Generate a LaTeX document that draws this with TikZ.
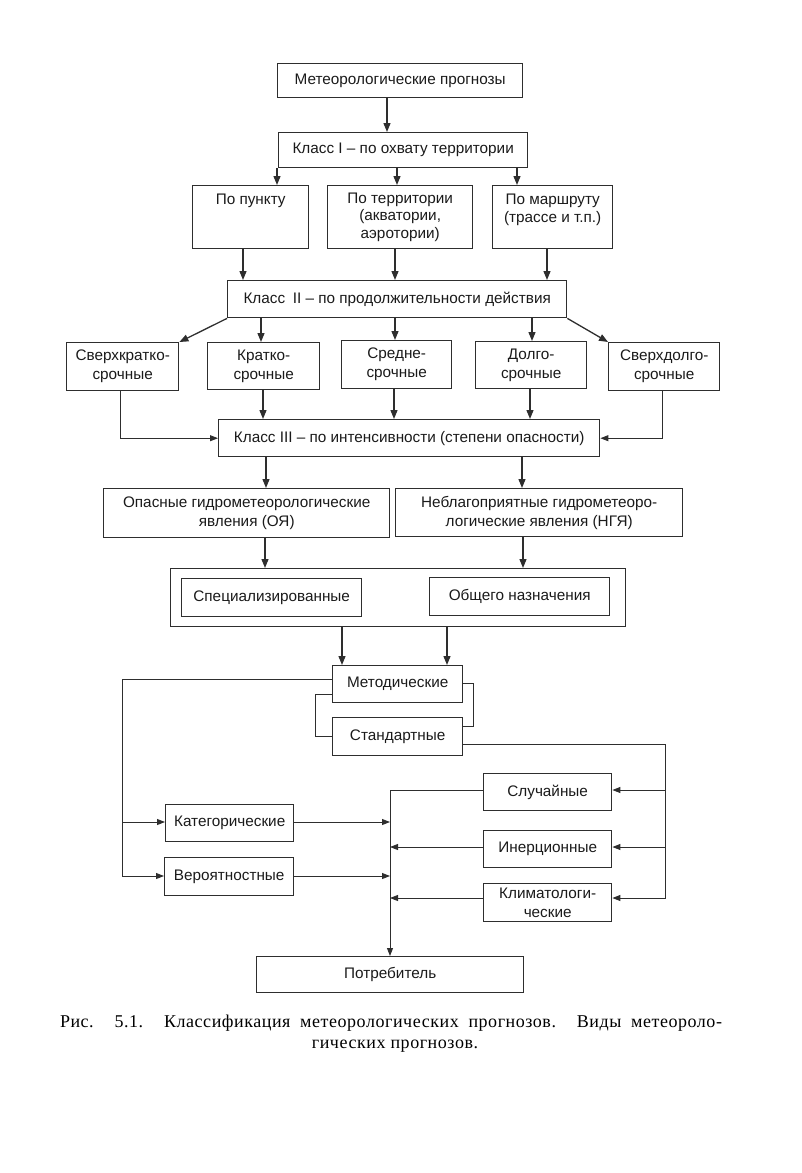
\documentclass[tikz,border=0pt]{standalone}
\usepackage{fontspec}
\setmainfont{Liberation Sans}
\newfontfamily\capfont[LetterSpace=3]{Liberation Serif}
\usetikzlibrary{arrows.meta}
\definecolor{lc}{HTML}{2E2E2E}
\definecolor{tc}{HTML}{1A1A1A}
\begin{document}
\begin{tikzpicture}[x=1pt,y=-1pt,
  box/.style={draw=lc, line width=1.4pt, inner sep=0pt, align=center, anchor=north west,
    font=\fontsize{15.3}{19}\selectfont, text=tc},
  toprow/.style={box, font=\fontsize{15.3}{17.5}\selectfont},
  arr/.style={draw=lc, line width=1.3pt, -{Triangle[length=9pt,width=7pt]}},
  thinarr/.style={draw=lc, line width=0.9pt, -{Triangle[length=8pt,width=6pt]}},
  thinln/.style={draw=lc, line width=0.9pt},
  captext/.style={font=\capfont\fontsize{18}{20}\selectfont, text=black, inner sep=0pt}]
\useasboundingbox (0,0) rectangle (802,1173);

% ---- boxes ----
\node[box, minimum width=245pt, minimum height=34pt] (met) at (277,63) {Метеорологические прогнозы};
\node[box, minimum width=249pt, minimum height=35pt] (k1) at (278,132) {Класс I – по охвату территории};
\node[toprow, minimum width=116pt, minimum height=63pt] (punkt) at (192,185) {По пункту\\\mbox{}\\\mbox{}};
\node[toprow, minimum width=145pt, minimum height=63pt] (terr) at (327,185) {По территории\\(акватории,\\аэротории)};
\node[toprow, minimum width=120pt, minimum height=63pt] (marsh) at (492,185) {По маршруту\\(трассе и т.п.)\\\mbox{}};
\node[box, minimum width=339pt, minimum height=37pt] (k2) at (227,280) {Класс\enspace II – по продолжительности действия};
\node[box, minimum width=112pt, minimum height=48pt] (sk) at (66,342) {Сверхкратко-\\срочные};
\node[box, minimum width=112pt, minimum height=47pt] (kr) at (207,342) {Кратко-\\срочные};
\node[box, minimum width=110pt, minimum height=48pt] (sr) at (341,340) {Средне-\\срочные};
\node[box, minimum width=111pt, minimum height=47pt] (dl) at (475,341) {Долго-\\срочные};
\node[box, minimum width=111pt, minimum height=48pt] (sd) at (608,342) {Сверхдолго-\\срочные};
\node[box, minimum width=381pt, minimum height=37pt] (k3) at (218,419) {Класс III – по интенсивности (степени опасности)};
\node[box, minimum width=286pt, minimum height=49pt] (oya) at (103,488) {Опасные гидрометеорологические\\явления (ОЯ)};
\node[box, minimum width=287pt, minimum height=48pt] (ngya) at (395,488) {Неблагоприятные гидрометеоро-\\логические явления (НГЯ)};
\node[box, minimum width=455pt, minimum height=58pt] (outer) at (170,568) {};
\node[box, minimum width=180pt, minimum height=38pt] (spec) at (181,578) {Специализированные};
\node[box, minimum width=180pt, minimum height=38pt] (obsh) at (429,577) {Общего назначения};
\node[box, minimum width=130pt, minimum height=37pt] (metd) at (332,665) {Методические};
\node[box, minimum width=130pt, minimum height=38pt] (std) at (332,717) {Стандартные};
\node[box, minimum width=128pt, minimum height=37pt] (kat) at (165,804) {Категорические};
\node[box, minimum width=129pt, minimum height=38pt] (ver) at (164,857) {Вероятностные};
\node[box, minimum width=128pt, minimum height=37pt] (slu) at (483,773) {Случайные};
\node[box, minimum width=128pt, minimum height=37pt] (iner) at (483,830) {Инерционные};
\node[box, minimum width=128pt, minimum height=38pt] (klim) at (483,883) {Климатологи-\\ческие};
\node[box, minimum width=267pt, minimum height=36pt] (potr) at (256,956) {Потребитель};

% ---- connectors: upper part ----
\draw[arr] (met.south -| 387,0) -- (k1.north -| 387,0);
\draw[arr] (k1.south -| 277,0) -- (punkt.north -| 277,0);
\draw[arr] (k1.south -| 397,0) -- (terr.north -| 397,0);
\draw[arr] (k1.south -| 517,0) -- (marsh.north -| 517,0);
\draw[arr] (punkt.south -| 243,0) -- (k2.north -| 243,0);
\draw[arr] (terr.south -| 395,0) -- (k2.north -| 395,0);
\draw[arr] (marsh.south -| 547,0) -- (k2.north -| 547,0);
\draw[arr] (k2.south west) -- (sk.north east);
\draw[arr] (k2.south east) -- (sd.north west);
\draw[arr] (k2.south -| 261,0) -- (kr.north -| 261,0);
\draw[arr] (k2.south -| 395,0) -- (sr.north -| 395,0);
\draw[arr] (k2.south -| 532,0) -- (dl.north -| 532,0);
\draw[arr] (kr.south -| 263,0) -- (k3.north -| 263,0);
\draw[arr] (sr.south -| 394,0) -- (k3.north -| 394,0);
\draw[arr] (dl.south -| 530,0) -- (k3.north -| 530,0);
\draw[thinarr] (sk.south -| 120,0) |- (k3.west);
\draw[thinarr] (sd.south -| 662,0) |- (k3.east);
\draw[arr] (k3.south -| 266,0) -- (oya.north -| 266,0);
\draw[arr] (k3.south -| 522,0) -- (ngya.north -| 522,0);
\draw[arr] (oya.south -| 265,0) -- (outer.north -| 265,0);
\draw[arr] (ngya.south -| 523,0) -- (outer.north -| 523,0);
\draw[arr] (outer.south -| 342,0) -- (metd.north -| 342,0);
\draw[arr] (outer.south -| 447,0) -- (metd.north -| 447,0);

% ---- connectors: lower part ----
\draw[thinln] (metd.west |- 0,694) -- (315,694) -- (315,736) -- (std.west |- 0,736);
\draw[thinln] (metd.east |- 0,683) -- (473,683) -- (473,726) -- (std.east |- 0,726);
\draw[thinarr] (metd.west |- 0,679) -- (122,679) -- (122,876) -- (ver.west |- 0,876);
\draw[thinarr] (122,822) -- (kat.west |- 0,822);
\draw[thinarr] (std.east |- 0,744) -- (665,744) -- (665,898) -- (klim.east |- 0,898);
\draw[thinarr] (665,790) -- (slu.east |- 0,790);
\draw[thinarr] (665,847) -- (iner.east |- 0,847);
\draw[thinarr] (slu.west |- 0,790) -| (potr.north -| 390,0);
\draw[thinarr] (kat.east |- 0,822) -- (390,822);
\draw[thinarr] (ver.east |- 0,876) -- (390,876);
\draw[thinarr] (iner.west |- 0,847) -- (390,847);
\draw[thinarr] (klim.west |- 0,898) -- (390,898);

% ---- caption ----
\node[captext] (cap1) at (391,1023)
  {\makebox[662pt][s]{Рис. 5.1. Классификация метеорологических прогнозов. Виды метеороло-}};
\node[captext] (cap2) at (395,1046) {гических прогнозов.};
\end{tikzpicture}
\end{document}
